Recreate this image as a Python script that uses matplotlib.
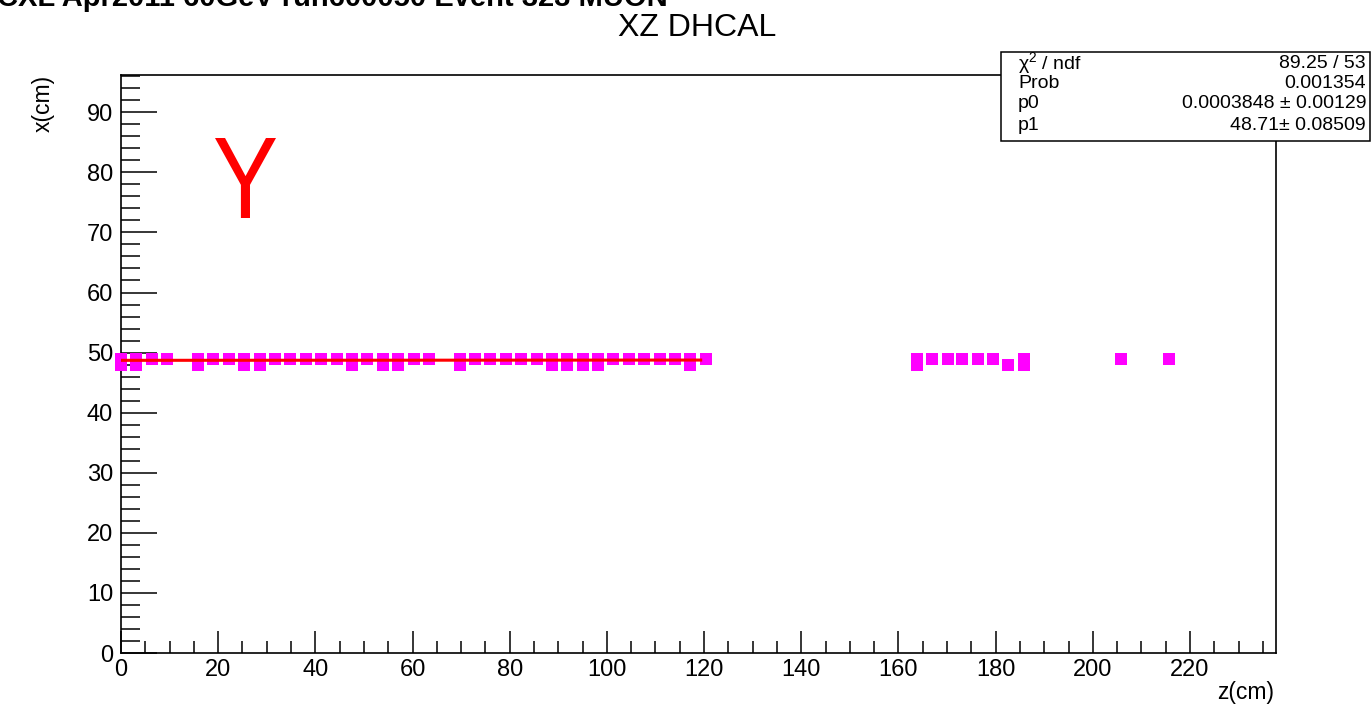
import matplotlib
matplotlib.use("Agg")
import matplotlib.pyplot as plt
from matplotlib.ticker import MultipleLocator
from matplotlib.patches import Rectangle, PathPatch
from matplotlib.textpath import TextPath
from matplotlib.font_manager import FontProperties
from matplotlib.transforms import Affine2D

plt.rcParams['font.family'] = ['Liberation Sans', 'DejaVu Sans']
plt.rcParams['mathtext.fontset'] = 'custom'
plt.rcParams['mathtext.rm'] = 'Liberation Sans'
plt.rcParams['mathtext.it'] = 'Liberation Sans:italic'

# Hit positions (z in cm) for the two pad rows crossed by the muon track
row_x = [48.9, 47.9]
z_row_upper = [0.0, 3.1, 6.4, 9.5, 15.8, 18.9, 22.2, 25.3, 28.6, 31.7, 34.8,
               38.1, 41.2, 44.4, 47.5, 50.6, 53.9, 57.0, 60.3, 63.4, 69.8,
               72.8, 75.9, 79.2, 82.3, 85.6, 88.7, 91.8, 95.1, 98.1, 101.2,
               104.5, 107.6, 110.9, 114.0, 117.1, 120.4,
               163.8, 167.0, 170.1, 173.1, 176.3, 179.4, 185.8, 205.8, 215.7]
z_row_lower = [0.0, 3.1, 15.8, 25.3, 28.6, 47.5, 53.9, 57.0, 69.8, 88.7,
               91.8, 95.1, 98.1, 117.1, 163.8, 182.5, 185.8]

# Linear fit x = p0*z + p1 and its statistics
p0 = 0.0003848
p0_err = 0.00129
p1 = 48.71
p1_err = 0.08509
chi2 = 89.25
ndf = 53
prob = 0.001354
fit_range = [0.3, 119.3]

W, H = 1371, 709
fig = plt.figure(figsize=(W / 100, H / 100), dpi=100)
ax = fig.add_axes([121 / W, 1 - 653 / H, (1276 - 121) / W, (653 - 75) / H])

hit_color = '#ff00ff'
ax.plot(z_row_upper, [row_x[0]] * len(z_row_upper), 's', color=hit_color,
        markersize=8.7, markeredgewidth=0, zorder=3, clip_on=False)
ax.plot(z_row_lower, [row_x[1]] * len(z_row_lower), 's', color=hit_color,
        markersize=8.7, markeredgewidth=0, zorder=3, clip_on=False)

fit_z = fit_range
fit_x = [p0 * z + p1 for z in fit_z]
ax.plot(fit_z, fit_x, '-', color='#ff0000', linewidth=2.2, zorder=4)

ax.set_xlim(0, 237.7)
ax.set_ylim(0, 96.2)

ax.xaxis.set_major_locator(MultipleLocator(20))
ax.xaxis.set_minor_locator(MultipleLocator(5))
ax.yaxis.set_major_locator(MultipleLocator(10))
ax.yaxis.set_minor_locator(MultipleLocator(2))

ax.tick_params(axis='both', which='both', direction='in', width=1.1,
               color='black', top=False, right=False, labelsize=17)
ax.tick_params(axis='x', which='major', length=16, pad=4.0)
ax.tick_params(axis='x', which='minor', length=9)
ax.tick_params(axis='y', which='major', length=25.7, pad=5.6)
ax.tick_params(axis='y', which='minor', length=13.7)
for s in ax.spines.values():
    s.set_linewidth(1.2)

# Axis titles, placed at the frame ends
fig.text(43 / W, 1 - 75 / H, 'x(cm)', rotation=90, ha='center', va='top',
         fontsize=16.5)
fig.text(1274 / W, 1 - 692 / H, 'z(cm)', ha='right', va='center',
         fontsize=16.5)

# Titles
fig.text(697 / W, 1 - 28 / H, 'XZ DHCAL', ha='center', va='center',
         fontsize=23)
fig.text(-3 / W, 1 - 6 / H, 'CXL Apr2011 60GeV run600050 Event 323 MUON',
         ha='left', va='baseline', fontsize=21, fontweight='bold')

# View label: a condensed red "Y" fitted into its box (pixel coordinates)
y_path = TextPath((0, 0), 'Y', size=100,
                  prop=FontProperties(family='Liberation Sans'))
ext = y_path.get_extents()
box_left, box_right, box_top, box_bottom = 215, 276, 138, 218
sx = (box_right - box_left) / ext.width
sy = (box_bottom - box_top) / ext.height
y_trans = (Affine2D().translate(-ext.x0, -ext.y0).scale(sx, sy)
           .translate(box_left, H - box_bottom))
fig.add_artist(PathPatch(y_path, transform=y_trans, facecolor='#ff0000',
                         edgecolor='none', zorder=4))

# Fit statistics box
bx0, bx1, by0, by1 = 1001, 1370, 52, 141
fig.add_artist(Rectangle((bx0 / W, 1 - by1 / H), (bx1 - bx0) / W,
                         (by1 - by0) / H, transform=fig.transFigure,
                         facecolor='white', edgecolor='black', linewidth=1.1,
                         zorder=5))
rows = [
    (r'$\mathrm{\chi}^{2}$ / ndf', f'{chi2:.2f} / {ndf}'),
    ('Prob', f'{prob:.6f}'),
    ('p0', f'{p0:.7f} \u00b1 {p0_err:.5f}'),
    ('p1', f'{p1:.2f}\u00b1 {p1_err:.5f}'),
]
row_y = [63, 83, 104, 125]
for (lab, val), yy in zip(rows, row_y):
    fig.text(1018 / W, 1 - yy / H, lab, ha='left', va='center', fontsize=14,
             zorder=6)
    fig.text(1366 / W, 1 - yy / H, val, ha='right', va='center', fontsize=14,
             zorder=6)

fig.savefig('out.png', dpi=100, facecolor='white')
